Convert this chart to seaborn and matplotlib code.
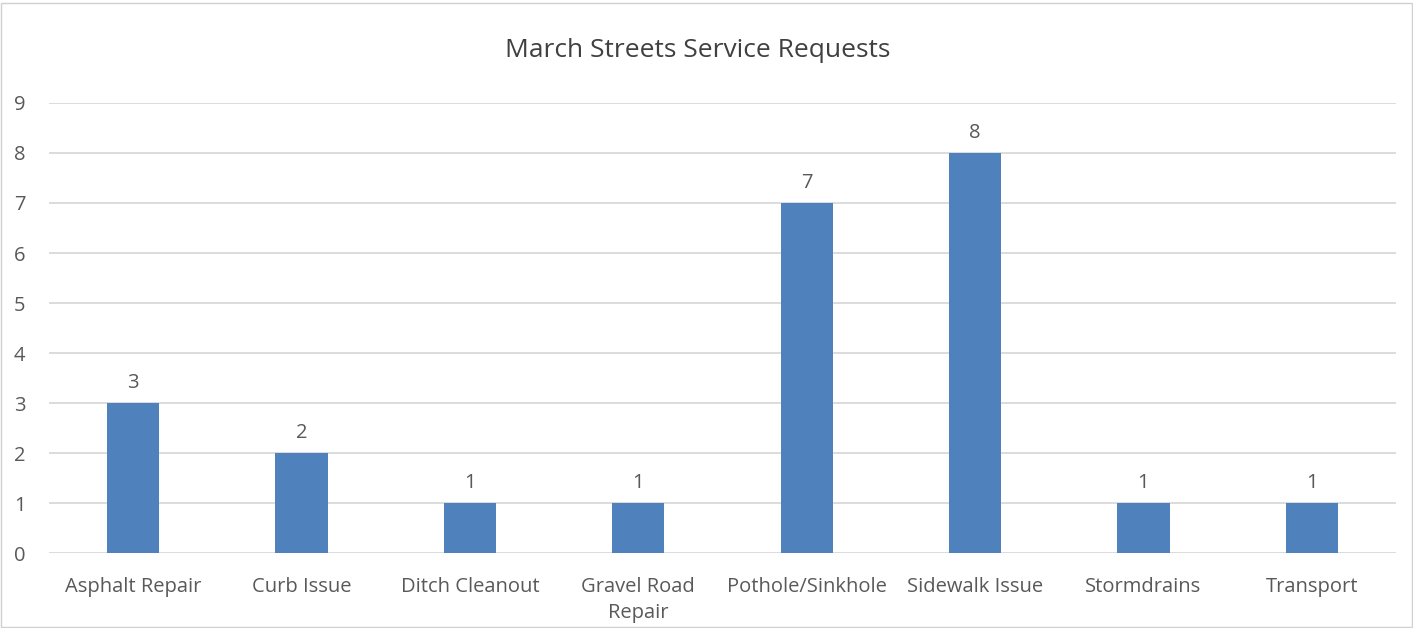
import matplotlib
matplotlib.use('Agg')
import matplotlib.pyplot as plt
import seaborn as sns
import pandas as pd

categories = ['Asphalt Repair', 'Curb Issue', 'Ditch Cleanout', 'Gravel Road\nRepair',
              'Pothole/Sinkhole', 'Sidewalk Issue', 'Stormdrains', 'Transport']
requests = [3, 2, 1, 1, 7, 8, 1, 1]
y_ticks = list(range(0, 10))

TEXT = '#595959'
BAR = '#4f81bd'
GRID = '#d9d9d9'

sns.set_style('white')
plt.rcParams['font.family'] = ['Open Sans', 'DejaVu Sans']

df = pd.DataFrame({'category': categories, 'requests': requests})

fig = plt.figure(figsize=(14.13, 6.28), dpi=100)
ax = fig.add_axes([0.0347, 0.1194, 0.9533, 0.7166])

sns.barplot(data=df, x='category', y='requests', color=BAR, width=0.31,
            saturation=1, linewidth=0, ax=ax, zorder=3)

ax.set_ylim(0, 9)
ax.set_xlim(-0.5, len(categories) - 0.5)
ax.set_yticks(y_ticks)
ax.yaxis.grid(True, color=GRID, linewidth=1.3, zorder=0)
ax.set_axisbelow(True)
for s in ax.spines.values():
    s.set_visible(False)
ax.tick_params(axis='both', length=0, labelsize=14.5, colors=TEXT)
ax.tick_params(axis='y', pad=17)
ax.tick_params(axis='x', pad=17)
for lbl in ax.get_xticklabels():
    lbl.set_linespacing(1.45)
ax.set_xlabel('')
ax.set_ylabel('')

for i, v in enumerate(requests):
    ax.text(i, v + 0.2, str(v), ha='center', va='bottom', fontsize=14.5, color=TEXT)

fig.text(0.494, 0.92, 'March Streets Service Requests', ha='center', va='center',
         fontsize=19, color='#404040')

# light border around the chart area
border = plt.Rectangle((0.001, 0.001), 0.998, 0.995, transform=fig.transFigure,
                       fill=False, edgecolor='#d0d0d0', linewidth=1)
fig.patches.append(border)

plt.savefig('out.png', dpi=100)
plt.close()
